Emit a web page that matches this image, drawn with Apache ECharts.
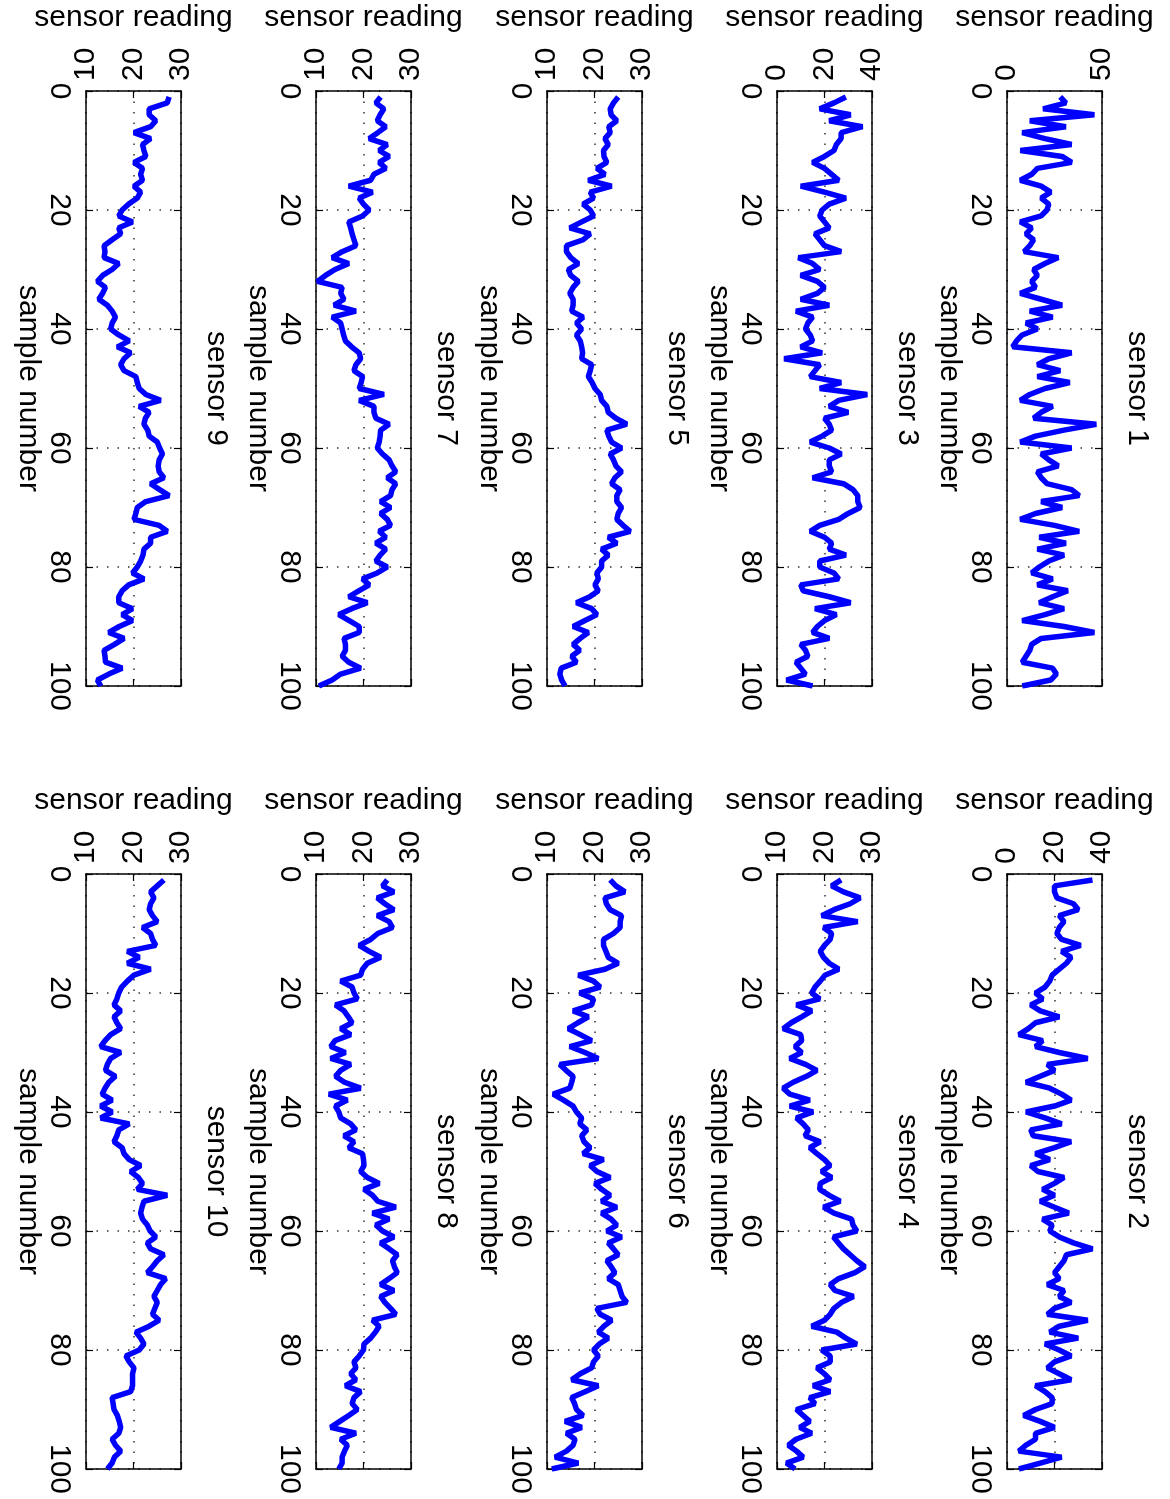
<!DOCTYPE html>
<html>
<head>
<meta charset="UTF-8">
<title>sensor readings</title>
<script src="https://cdn.jsdelivr.net/npm/echarts@6/dist/echarts.min.js"></script>
<style>
  html, body { margin: 0; padding: 0; background: #fff; }
  #container { width: 1170px; height: 1499px; }
</style>
</head>
<body>
<div id="container"></div>
<script>
// sensor readings, samples 1..100
var sensor1 = [28,31,19,46,12,31,8,20,34,7,29,34,16,13,7,18,23,18,22,21,18,7,13,10,14,12,9,27,20,14,16,13,15,7,18,29,12,24,10,16,8,5,3,34,22,16,28,16,33,20,12,7,24,18,14,47,30,15,7,34,18,22,27,16,18,21,34,38,18,29,15,7,25,38,17,31,16,30,22,17,13,24,16,32,24,17,30,20,8,30,46,18,13,12,10,8,24,26,23,8];
var sensor2 = [36,20,20,21,28,30,22,24,22,21,23,31,23,27,25,22,19,18,16,12,15,10,14,22,12,9,5,15,12,22,34,17,20,14,8,18,23,27,20,8,16,23,10,11,27,20,12,18,10,13,24,20,15,20,14,20,26,15,19,18,22,28,36,25,24,22,20,22,17,24,22,27,20,17,34,22,18,30,16,22,27,20,17,22,27,12,16,19,19,12,7,14,20,12,12,8,5,23,14,5];
var sensor3 = [29,24,18,31,22,36,27,27,25,24,20,15,20,23,26,10,20,29,22,19,18,20,22,16,18,20,27,9,15,18,10,17,20,17,10,22,8,15,13,12,14,15,10,19,3,18,16,14,27,18,38,26,22,30,20,22,23,19,14,22,27,22,22,23,15,28,32,34,34,35,30,26,18,14,20,23,22,29,18,18,24,26,10,11,22,31,16,25,20,17,15,22,10,12,13,8,10,12,4,15];
var sensor4 = [23.5,21.5,24,27.5,25.4,22,19.4,27,19.8,21.5,21.2,20,19.1,19.8,21,23,20.1,19.1,18,17.3,19,14.1,17.3,15.2,13,11.3,15,15.2,13.8,15.2,12.7,16,18.4,16.2,13.4,11.3,12.7,16.9,12.7,17.6,14.1,15.5,16.6,15.9,19.1,16.9,18.4,20,21.2,19.4,21.5,19.1,19,21,23.3,19.8,22,25.7,26,26.8,21.9,22.9,24,25.4,26.8,28.5,26.4,23,21.2,22.2,26.1,23.6,22,21.2,20,17.3,22.6,24.5,26.8,19.4,21.2,21.2,18.4,20,21.2,17.6,21.2,16.9,18,14.1,15.5,16.9,14.8,17.3,14,12.4,14.1,15.5,12,13.8];
var sensor5 = [25,24,23.3,23.5,24.7,23,23.3,22.2,22.9,21.9,22,22.6,20.5,22.2,18.7,23.6,19.1,19.8,17.6,19.1,19.8,17.3,14.8,19.1,17.6,14.1,14.1,15,16.6,14.5,15,16.6,15.5,14.8,15.5,15.5,15.2,17.6,16.2,17.3,16.2,17,17.3,17.5,17.3,19.4,19.1,18.7,19.5,20.1,21.2,21.5,22.6,22.9,24.5,26.8,22.6,23,23.6,25.7,23.3,24,24.5,25.7,24.3,23.6,25.4,24.7,24.7,25.7,25,24.7,26,27.5,22.9,24.7,21.5,22.9,21.5,21.5,20.5,20.8,20.1,20.8,19,16.2,19.4,20.5,18,15.5,18.7,17,15.5,16.9,15.2,16.2,13,12.7,13.1,13.8];
var sensor6 = [23.3,24.5,26.4,22.2,22.5,23.3,25.7,25.4,25.4,24,21.9,21.9,22.4,22.9,25,22.2,16.6,19.8,21.2,16.9,19.8,19.4,15.5,18.7,16.5,14.5,17,19.4,14.8,18,20.8,12.7,14,15.5,15.2,14.8,11.3,13.5,15.5,16.2,17.3,16.9,18.4,17.3,17.8,19.1,17.6,21.9,19.1,20.5,23.3,20.1,21.5,23.3,21.5,24.7,21.5,23.5,24.7,22.6,25.7,22.9,24,25,22.6,23.5,24.3,22.9,25,25.4,25.8,26.8,20.5,21.2,23.6,22,20.8,22.9,21,19.8,20.8,19.8,19.4,17,15.2,20.8,18,15.2,15.8,16.2,17.6,13.8,17.3,14.1,15.9,15.5,14.1,11.7,16.6,11];
var sensor7 = [23.6,22.6,24.3,23.5,22.9,24.7,23,21.2,25,23.3,25.4,23.3,24.7,22.2,21.5,16.9,21.9,19.1,20,21.2,19.8,16.9,17.3,17.6,18,18.4,15.5,13.4,16.9,14,12,10.3,15.5,15.2,15.9,13.8,18.4,13.4,15.2,15.5,15.8,16.2,17.5,19.1,19.4,18.4,18,19.8,19.5,19.1,24.3,19.1,22.2,22.2,22.6,25.4,23.6,23.5,23.3,22.9,24,25.4,26,26.8,25,26.8,26,25.7,23.6,25.7,23.6,25,25.7,23.3,24.7,22.6,24.7,23.5,22.6,25,22.9,19.8,21.2,19,16.9,20.8,17.5,14.8,17,19.1,19.1,15.9,16.2,16.2,15.5,16.9,19.4,15.2,13.4,10.6];
var sensor8 = [25,24,26.4,22.9,24.5,26.4,22.9,25.4,26.1,23,21.5,19.1,21.2,23.6,20.8,19.8,19.4,15.2,17.6,18,18.7,14.1,15.9,16.8,17.6,15.2,17.3,14,13.1,16.2,13.1,17.3,15.2,14.1,16,19.4,12.7,16.6,14.1,14.8,15.2,17.3,18.4,15.9,18,16.9,19.8,20,20.1,19.4,20.8,23.3,20.1,21.9,23,26.8,21.9,25.4,22.6,24,26.4,23.6,25.4,27.1,26.1,26.5,27.1,25.4,23.6,26.4,23.6,24.5,25.7,26.8,21.9,23.3,22.5,21.5,20.1,20,19.1,18,18.4,17.3,18.4,16.2,19.4,18,17.6,18.7,16.9,15,13.1,18.4,15.2,16.6,16,15.5,15.5,14.8];
var sensor9 = [27.5,27.1,23.3,23.3,24.7,23.6,20.1,23.6,21.9,22.2,22.6,20.1,21.9,21.5,21.9,20.1,21.5,20.8,19,17.6,16.9,19.8,16.9,17.3,15.5,13.8,14,13.8,16.9,15.5,13.5,12.4,14.1,13.5,12.7,14.5,15.5,16.2,15.5,15.2,16.9,19.1,16.6,19.4,18,17.3,18,20.5,20.8,21.2,22.6,25.7,21.2,23.3,22.5,22.2,23,23.3,25,25.5,26.1,25.4,25.2,25.4,26.4,23.6,25.5,27.5,22.6,20.8,20.5,20.1,25.4,27.1,23.6,23.6,22.2,22,21.5,20.8,19.8,22.2,19,17.6,16.9,16.9,19.8,17.6,19.8,17,14.8,18,16,13.8,14,14.1,17.6,14.8,12.4,13.1];
var sensor10 = [26.4,25,23.6,24.3,23.6,23.3,24,25,21.9,23.6,24,24.7,18.7,21.2,18.7,23.6,20.1,18.7,17.5,16.9,16.5,15.9,17.3,15.9,16.5,17.3,15.2,14,13.1,17.3,15.2,14.5,14.1,16.2,14.8,14,13.4,15.5,13.1,15.5,13.1,19.1,16.9,16.5,15.9,17.6,18,19.1,21.5,19.4,21,21.9,20.8,27.1,22.2,21.8,21.5,21.9,22.9,23.5,24.7,22.9,23.6,26.4,25,24,22.9,26.8,25.7,25,24.3,25,24.5,24,25.4,23.3,20.5,21.5,22.2,21.2,18.4,19.1,20.1,19.8,19.8,19.8,19.4,15.5,15.7,15.9,16.6,17,17.3,16.9,15.5,16.2,17.3,16,15.5,14.5];

var sensors = [sensor1, sensor2, sensor3, sensor4, sensor5, sensor6, sensor7, sensor8, sensor9, sensor10];
var sensorNames = ['sensor 1','sensor 2','sensor 3','sensor 4','sensor 5','sensor 6','sensor 7','sensor 8','sensor 9','sensor 10'];
// reading axis limits per sensor
var readingMin = [0, 0, 0, 10, 10, 10, 10, 10, 10, 10];
var readingMax = [50, 40, 40, 30, 30, 30, 30, 30, 30, 30];
var readingStep = [50, 20, 20, 10, 10, 10, 10, 10, 10, 10];
var sampleMin = 0, sampleMax = 100, sampleStep = 20;

// sample index 1..100
var samples = [];
for (var i = 1; i <= 100; i++) samples.push(i);

var FONT = "'Liberation Sans', Arial, Helvetica, sans-serif";
var colLeft = [1007, 777, 547, 316, 86];
var rowTop = [91, 874];
var panelW = 95, panelH = 595;
var black = '#000';

function buildOption() {
    var grids = [], xAxes = [], yAxes = [], series = [], graphics = [];
    var tick = { show: true, inside: true, length: 7, lineStyle: { color: black, width: 1.2 } };
    var axisLine = { show: true, onZero: false, lineStyle: { color: black, width: 1.5 } };
    var dotted = { show: true, lineStyle: { color: '#333', width: 1.5, type: [1.5, 9] } };

    for (var k = 0; k < 10; k++) {
        var pLeft = colLeft[Math.floor(k / 2)];
        var pTop = rowTop[k % 2];
        grids.push({ left: pLeft, top: pTop, width: panelW, height: panelH });

        // sensor reading axis (horizontal in the picture), labels on top
        xAxes.push({
            gridIndex: k, type: 'value', position: 'top',
            min: readingMin[k], max: readingMax[k], interval: readingStep[k],
            axisLine: axisLine, axisTick: tick, splitLine: dotted,
            axisLabel: { rotate: -90, fontSize: 30, color: black, fontFamily: FONT, margin: 10,
                         showMinLabel: true, showMaxLabel: true },
            name: 'sensor reading', nameLocation: 'middle', nameGap: 58,
            nameTextStyle: { fontSize: 30, color: black, fontFamily: FONT }
        });
        xAxes.push({
            gridIndex: k, type: 'value', position: 'bottom',
            min: readingMin[k], max: readingMax[k], interval: readingStep[k],
            axisLine: axisLine, axisTick: tick, axisLabel: { show: false }, splitLine: { show: false }
        });

        // sample number axis (vertical in the picture), 0 at the top
        yAxes.push({
            gridIndex: k, type: 'value', position: 'left', inverse: true,
            min: sampleMin, max: sampleMax, interval: sampleStep,
            axisLine: axisLine, axisTick: tick, splitLine: dotted,
            axisLabel: { rotate: -90, fontSize: 30, color: black, fontFamily: FONT, margin: 12,
                         showMinLabel: true, showMaxLabel: true },
            name: 'sample number', nameLocation: 'middle', nameRotate: -90, nameGap: 35,
            nameTextStyle: { fontSize: 30, color: black, fontFamily: FONT }
        });
        yAxes.push({
            gridIndex: k, type: 'value', position: 'right', inverse: true,
            min: sampleMin, max: sampleMax, interval: sampleStep,
            axisLine: axisLine, axisTick: tick, axisLabel: { show: false }, splitLine: { show: false }
        });

        var pts = [];
        for (var j = 0; j < samples.length; j++) pts.push([sensors[k][j], samples[j]]);
        series.push({
            type: 'line', xAxisIndex: 2 * k, yAxisIndex: 2 * k,
            data: pts, showSymbol: false, symbol: 'none', silent: true,
            lineStyle: { color: '#0000ff', width: 5.5 }
        });

        graphics.push({
            type: 'text', x: pLeft + panelW + 35, y: pTop + panelH / 2, rotation: -Math.PI / 2,
            style: { text: sensorNames[k], fontSize: 30, fontFamily: FONT, fill: black,
                     textAlign: 'center', textVerticalAlign: 'middle' }
        });
    }
    return {
        backgroundColor: '#fff',
        animation: false,
        grid: grids, xAxis: xAxes, yAxis: yAxes,
        series: series, graphic: graphics
    };
}

var mychart = echarts.init(document.getElementById('container'));
mychart.setOption(buildOption());
</script>
</body>
</html>
